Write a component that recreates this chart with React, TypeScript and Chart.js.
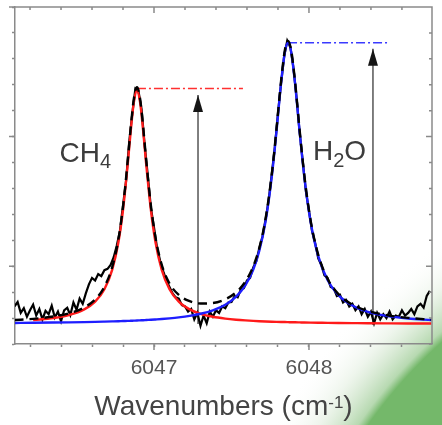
import React, { useEffect, useRef } from 'react';
import { Chart, registerables } from 'chart.js';

Chart.register(...registerables);

// ---------- axis ranges & ticks ----------
const X_MIN = 6046.103;
const X_MAX = 6048.794;
const Y_MIN = 0;
const Y_MAX = 13;
const xTickValues = [6046.2, 6046.4, 6046.6, 6046.8, 6047.0, 6047.2, 6047.4, 6047.6, 6047.8, 6048.0, 6048.2, 6048.4, 6048.6];
const xMajorTicks = [6047, 6048];
const yTickValues = [0, 1, 2, 3, 4, 5, 6, 7, 8, 9, 10, 11, 12, 13];
const yMajorTicks = [3, 8, 13];

// ---------- measured spectrum ----------
const specX = [
  6046.10, 6046.12, 6046.14, 6046.16, 6046.18, 6046.20, 6046.22, 6046.24, 6046.26, 6046.28,
  6046.30, 6046.32, 6046.34, 6046.36, 6046.38, 6046.40, 6046.42, 6046.44, 6046.46, 6046.48,
  6046.50, 6046.52, 6046.54, 6046.56, 6046.58, 6046.60, 6046.62, 6046.64, 6046.66, 6046.68,
  6046.70, 6046.72, 6046.74, 6046.76, 6046.78, 6046.80, 6046.82, 6046.84, 6046.86, 6046.88,
  6046.90, 6046.92, 6046.94, 6046.96, 6046.98, 6047.00, 6047.02, 6047.04, 6047.06, 6047.08,
  6047.10, 6047.12, 6047.14, 6047.16, 6047.18, 6047.20, 6047.22, 6047.24, 6047.26, 6047.28,
  6047.30, 6047.32, 6047.34, 6047.36, 6047.38, 6047.40, 6047.42, 6047.44, 6047.46, 6047.48,
  6047.50, 6047.52, 6047.54, 6047.56, 6047.58, 6047.60, 6047.62, 6047.64, 6047.66, 6047.68,
  6047.70, 6047.72, 6047.74, 6047.76, 6047.78, 6047.80, 6047.82, 6047.84, 6047.86, 6047.88,
  6047.90, 6047.92, 6047.94, 6047.96, 6047.98, 6048.00, 6048.02, 6048.04, 6048.06, 6048.08,
  6048.10, 6048.12, 6048.14, 6048.16, 6048.18, 6048.20, 6048.22, 6048.24, 6048.26, 6048.28,
  6048.30, 6048.32, 6048.34, 6048.36, 6048.38, 6048.40, 6048.42, 6048.44, 6048.46, 6048.48,
  6048.50, 6048.52, 6048.54, 6048.56, 6048.58, 6048.60, 6048.62, 6048.64, 6048.66, 6048.68,
  6048.70, 6048.72, 6048.74, 6048.76, 6048.78,
];
const specY = [
  1.45, 1.62, 1.20, 1.38, 1.05, 1.30, 1.52, 1.10, 1.35, 0.95,
  1.28, 1.15, 1.48, 1.02, 1.25, 0.88, 1.30, 1.40, 1.12, 1.60,
  1.32, 1.75, 1.55, 1.95, 2.30, 2.55, 2.45, 2.70, 2.62, 2.85,
  2.90, 3.05, 3.35, 3.80, 4.35, 5.35, 6.30, 7.80, 8.90, 9.85,
  9.75, 9.05, 7.65, 6.50, 5.25, 4.50, 3.70, 3.20, 2.80, 2.45,
  2.20, 1.95, 1.80, 1.75, 1.50, 1.45, 1.25, 1.35, 0.95, 1.20,
  0.70, 1.10, 0.80, 1.25, 1.05, 1.30, 1.20, 1.45, 1.38, 1.60,
  1.62, 1.85, 1.80, 2.10, 2.15, 2.45, 2.55, 2.95, 3.20, 3.70,
  4.15, 4.80, 5.55, 6.55, 7.60, 8.90, 10.05, 11.10, 11.70, 11.45,
  10.65, 9.50, 8.15, 7.05, 5.90, 5.15, 4.35, 3.90, 3.30, 3.05,
  2.65, 2.55, 2.20, 2.15, 1.85, 1.90, 1.60, 1.70, 1.45, 1.55,
  1.30, 1.45, 1.15, 1.35, 1.05, 1.25, 0.80, 1.20, 0.95, 1.15,
  1.00, 1.25, 0.95, 1.10, 1.05, 1.30, 1.10, 1.20, 1.35, 1.15,
  1.45, 1.55, 1.40, 1.85, 2.05,
];

// ---------- fitted profiles ----------
const fitX = [
  6046.10, 6046.22, 6046.35, 6046.45, 6046.55, 6046.62, 6046.68, 6046.73, 6046.77, 6046.80,
  6046.83, 6046.85, 6046.87, 6046.89, 6046.91, 6046.93, 6046.95, 6046.98, 6047.01, 6047.05,
  6047.10, 6047.16, 6047.23, 6047.30, 6047.38, 6047.46, 6047.53, 6047.59, 6047.64, 6047.68,
  6047.72, 6047.76, 6047.79, 6047.82, 6047.845, 6047.865, 6047.885, 6047.91, 6047.94, 6047.97,
  6048.01, 6048.06, 6048.12, 6048.19, 6048.28, 6048.38, 6048.50, 6048.64, 6048.79,
];
const ch4Fit = [
  null, 0.923, 1.003, 1.116, 1.335, 1.634, 2.114, 2.86, 3.917, 5.169,
  6.913, 8.229, 9.328, 9.77, 9.328, 8.229, 6.913, 5.169, 3.917, 2.86,
  2.114, 1.634, 1.335, 1.166, 1.051, 0.98, 0.937, 0.91, 0.892, 0.88,
  0.87, 0.861, 0.855, 0.85, 0.846, 0.843, 0.84, 0.837, 0.833, 0.829,
  0.825, 0.821, 0.816, 0.811, 0.806, 0.801, 0.797, 0.793, 0.789,
];
const h2oFit = [
  0.812, 0.818, 0.827, 0.835, 0.845, 0.854, 0.863, 0.871, 0.878, 0.885,
  0.891, 0.896, 0.901, 0.906, 0.912, 0.918, 0.925, 0.935, 0.947, 0.964,
  0.99, 1.028, 1.086, 1.166, 1.301, 1.515, 1.826, 2.267, 2.863, 3.604,
  4.733, 6.448, 8.177, 10.064, 11.272, 11.62, 11.272, 10.064, 8.177, 6.448,
  4.733, 3.389, 2.472, 1.885, 1.482, 1.243, 1.086, 0.984, 0.921,
];
const sumFit = [
  0.922, 0.971, 1.06, 1.181, 1.41, 1.718, 2.207, 2.961, 4.025, 5.284,
  7.034, 8.355, 9.459, 9.906, 9.47, 8.377, 7.068, 5.334, 4.094, 3.054,
  2.334, 1.892, 1.651, 1.562, 1.582, 1.725, 1.993, 2.407, 2.985, 3.714,
  4.833, 6.539, 8.262, 10.144, 11.348, 11.693, 11.342, 10.131, 8.24, 6.507,
  4.788, 3.44, 2.518, 1.926, 1.518, 1.274, 1.113, 1.007, 0.94,
];

// ---------- peak-height markers ----------
const ch4PeakLineX = [6046.89, 6047.574];
const ch4PeakLineY = [9.86, 9.86];
const h2oPeakLineX = [6047.865, 6048.522];
const h2oPeakLineY = [11.62, 11.62];
const ch4ArrowX = [6047.284, 6047.284];
const ch4ArrowY = [0.77, 9.61];
const h2oArrowX = [6048.413, 6048.413];
const h2oArrowY = [0.73, 11.39];

// ---------- labels ----------
const ch4Label = { x: 6046.39, y: 7.03 };
const h2oLabel = { x: 6048.026, y: 7.1 };
const xTitleMain = 'Wavenumbers (cm';
const xTitleSup = '-1';
const xTitleEnd = ')';

const FONT = '"Liberation Sans", Arial, Helvetica, sans-serif';
const AXIS_COLOR = '#8a8a8a';
const TEXT_COLOR = '#3c3c3c';

const pts = (xs: number[], ys: (number | null)[]) => xs.map((x, i) => ({ x, y: ys[i] }));
const isMajorX = (v: number) => xMajorTicks.some((m) => Math.abs(m - v) < 1e-6);
const isMajorY = (v: number) => yMajorTicks.some((m) => Math.abs(m - v) < 1e-6);

type Part = { t: string; size: number; dy: number };
function drawParts(ctx: CanvasRenderingContext2D, parts: Part[], x: number, y: number, center = false) {
  let w = 0;
  parts.forEach((p) => {
    ctx.font = `${p.size}px ${FONT}`;
    w += ctx.measureText(p.t).width;
  });
  let cx = center ? x - w / 2 : x;
  parts.forEach((p) => {
    ctx.font = `${p.size}px ${FONT}`;
    ctx.fillText(p.t, cx, y + p.dy);
    cx += ctx.measureText(p.t).width;
  });
}

const decorPlugin = {
  id: 'decor',
  beforeDraw(chart: any) {
    const ctx = chart.ctx as CanvasRenderingContext2D;
    ctx.save();
    ctx.fillStyle = '#ffffff';
    ctx.fillRect(0, 0, chart.width, chart.height);
    const g = ctx.createRadialGradient(760, 700, 0, 760, 700, 560);
    g.addColorStop(0, '#74b86a');
    g.addColorStop(0.855, '#74b86a');
    g.addColorStop(0.87, 'rgba(135,192,125,0.6)');
    g.addColorStop(0.93, 'rgba(180,212,172,0.22)');
    g.addColorStop(1, 'rgba(255,255,255,0)');
    ctx.fillStyle = g;
    ctx.fillRect(0, 0, chart.width, chart.height);
    ctx.restore();
  },
  afterDatasetsDraw(chart: any) {
    const ctx = chart.ctx as CanvasRenderingContext2D;
    const xs = chart.scales.x;
    const ys = chart.scales.y;
    ctx.save();
    ctx.fillStyle = '#151515';
    [
      [ch4ArrowX[1], ch4ArrowY[1]],
      [h2oArrowX[1], h2oArrowY[1]],
    ].forEach(([vx, vy]) => {
      const px = xs.getPixelForValue(vx);
      const py = ys.getPixelForValue(vy);
      ctx.beginPath();
      ctx.moveTo(px, py);
      ctx.lineTo(px - 5, py + 17);
      ctx.lineTo(px + 5, py + 17);
      ctx.closePath();
      ctx.fill();
    });
    ctx.restore();
  },
  afterDraw(chart: any) {
    const ctx = chart.ctx as CanvasRenderingContext2D;
    const xs = chart.scales.x;
    const ys = chart.scales.y;
    const { left, right, top, bottom } = chart.chartArea;
    ctx.save();
    ctx.strokeStyle = AXIS_COLOR;
    ctx.lineWidth = 1.5;
    ctx.beginPath();
    ctx.moveTo(left, top);
    ctx.lineTo(right, top);
    ctx.lineTo(right, bottom);
    xTickValues.forEach((v) => {
      const px = xs.getPixelForValue(v);
      const major = isMajorX(v);
      ctx.moveTo(px, top);
      ctx.lineTo(px, top + (major ? 6 : 3));
      if (major) {
        ctx.moveTo(px, bottom);
        ctx.lineTo(px, bottom + 6);
      }
    });
    yTickValues.forEach((v) => {
      const py = ys.getPixelForValue(v);
      const major = isMajorY(v);
      ctx.moveTo(right, py);
      ctx.lineTo(right - (major ? 6 : 3), py);
      if (major) {
        ctx.moveTo(left, py);
        ctx.lineTo(left - 6, py);
      }
    });
    ctx.stroke();

    ctx.fillStyle = TEXT_COLOR;
    ctx.textBaseline = 'alphabetic';
    ctx.textAlign = 'left';
    drawParts(
      ctx,
      [
        { t: 'CH', size: 28, dy: 0 },
        { t: '4', size: 20, dy: 6 },
      ],
      xs.getPixelForValue(ch4Label.x),
      ys.getPixelForValue(ch4Label.y)
    );
    drawParts(
      ctx,
      [
        { t: 'H', size: 28, dy: 0 },
        { t: '2', size: 20, dy: 7 },
        { t: 'O', size: 28, dy: 0 },
      ],
      xs.getPixelForValue(h2oLabel.x),
      ys.getPixelForValue(h2oLabel.y)
    );
    ctx.fillStyle = '#444444';
    drawParts(
      ctx,
      [
        { t: xTitleMain, size: 28, dy: 0 },
        { t: xTitleSup, size: 17, dy: -7 },
        { t: xTitleEnd, size: 28, dy: 0 },
      ],
      (left + right) / 2,
      xs.bottom - 10,
      true
    );
    ctx.restore();
  },
};

export default function App() {
  const canvasRef = useRef<HTMLCanvasElement | null>(null);

  useEffect(() => {
    if (!canvasRef.current) return;
    const chart = new Chart(canvasRef.current, {
      type: 'line',
      data: {
        datasets: [
          {
            label: 'Sum fit',
            data: pts(fitX, sumFit),
            borderColor: '#000000',
            borderWidth: 2.4,
            borderDash: [9, 6],
            cubicInterpolationMode: 'monotone',
            order: 0,
          },
          {
            label: 'H2O fit',
            data: pts(fitX, h2oFit),
            borderColor: '#1e1eff',
            borderWidth: 2.4,
            cubicInterpolationMode: 'monotone',
            order: 1,
          },
          {
            label: 'CH4 fit',
            data: pts(fitX, ch4Fit),
            borderColor: '#ff1a1a',
            borderWidth: 2.4,
            cubicInterpolationMode: 'monotone',
            order: 2,
          },
          {
            label: 'CH4 peak level',
            data: pts(ch4PeakLineX, ch4PeakLineY),
            borderColor: '#ff3030',
            borderWidth: 1.5,
            borderDash: [9, 3, 2, 3],
            order: 3,
          },
          {
            label: 'H2O peak level',
            data: pts(h2oPeakLineX, h2oPeakLineY),
            borderColor: '#3a3aff',
            borderWidth: 1.5,
            borderDash: [9, 3, 2, 3],
            order: 3,
          },
          {
            label: 'Spectrum',
            data: pts(specX, specY),
            borderColor: '#000000',
            borderWidth: 2.2,
            tension: 0,
            order: 5,
          },
          {
            label: 'CH4 arrow',
            data: pts(ch4ArrowX, ch4ArrowY),
            borderColor: '#555555',
            borderWidth: 1.5,
            order: 6,
          },
          {
            label: 'H2O arrow',
            data: pts(h2oArrowX, h2oArrowY),
            borderColor: '#555555',
            borderWidth: 1.5,
            order: 6,
          },
        ],
      },
      options: {
        animation: false,
        responsive: false,
        devicePixelRatio: 1,
        layout: { padding: { top: 7, right: 10, bottom: 0, left: 0 } },
        elements: { point: { radius: 0, hoverRadius: 0 }, line: { fill: false } },
        plugins: { legend: { display: false }, tooltip: { enabled: false } },
        events: [],
        scales: {
          x: {
            type: 'linear',
            position: 'bottom',
            min: X_MIN,
            max: X_MAX,
            afterBuildTicks: (scale: any) => {
              scale.ticks = xTickValues.map((v) => ({ value: v }));
            },
            afterFit: (scale: any) => {
              scale.height = 81;
            },
            ticks: {
              autoSkip: false,
              maxRotation: 0,
              padding: 9,
              color: '#555555',
              font: { family: FONT, size: 21 },
              callback: (value: any) => (isMajorX(Number(value)) ? String(Math.round(Number(value))) : ''),
            },
            grid: {
              display: true,
              drawOnChartArea: false,
              drawTicks: true,
              tickLength: 3,
              tickColor: AXIS_COLOR,
              tickWidth: 1.5,
            },
            border: { display: true, color: AXIS_COLOR, width: 1.5 },
          },
          y: {
            type: 'linear',
            min: Y_MIN,
            max: Y_MAX,
            afterBuildTicks: (scale: any) => {
              scale.ticks = yTickValues.map((v) => ({ value: v }));
            },
            afterFit: (scale: any) => {
              scale.width = 15;
            },
            ticks: { display: false },
            grid: {
              display: true,
              drawOnChartArea: false,
              drawTicks: true,
              tickLength: 3,
              tickColor: AXIS_COLOR,
              tickWidth: 1.5,
            },
            border: { display: true, color: AXIS_COLOR, width: 1.5 },
          },
        },
      } as any,
      plugins: [decorPlugin],
    });
    return () => chart.destroy();
  }, []);

  return (
    <div style={{ position: 'fixed', left: 0, top: 0, width: 442, height: 425, background: '#ffffff' }}>
      <canvas ref={canvasRef} width={442} height={425} style={{ display: 'block', width: 442, height: 425 }} />
    </div>
  );
}
